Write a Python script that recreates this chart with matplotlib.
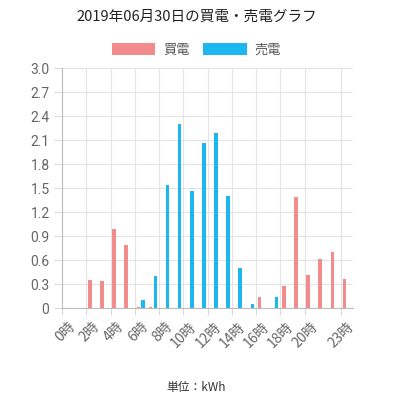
import matplotlib
matplotlib.use("Agg")
import matplotlib.pyplot as plt
import numpy as np
from matplotlib.patches import Patch

plt.rcParams['font.family'] = ['Noto Sans CJK JP', 'DejaVu Sans']

# データ
hours = [f"{h}時" for h in range(24)]
buy = [0, 0, 0.36, 0.34, 0.99, 0.79, 0.02, 0.02, 0, 0, 0, 0,
       0, 0, 0, 0.01, 0.14, 0, 0.28, 1.39, 0.42, 0.62, 0.70, 0.37]
sell = [0, 0, 0, 0, 0, 0, 0.10, 0.40, 1.54, 2.30, 1.47, 2.07,
        2.19, 1.40, 0.51, 0.05, 0, 0.14, 0, 0, 0, 0, 0, 0]
shown_hours = [0, 2, 4, 6, 8, 10, 12, 14, 16, 18, 20, 23]
y_ticks = [0, 0.3, 0.6, 0.9, 1.2, 1.5, 1.8, 2.1, 2.4, 2.7, 3.0]

buy_color = '#f28b8c'
sell_color = '#1bb7ee'

fig = plt.figure(figsize=(3.93, 4.0), dpi=100)
ax = fig.add_axes([62 / 393, 91.7 / 400, 291 / 393, 240 / 400])

x = np.arange(len(hours))
w = 0.3
ax.bar(x - 0.2, buy, width=w, color=buy_color, linewidth=0, zorder=3)
ax.bar(x + 0.2, sell, width=w, color=sell_color, linewidth=0, zorder=3)

ax.set_xlim(-0.5, 23.5)
ax.set_ylim(0, 3.0)

# x軸: グリッドはカテゴリの左端、ラベルは中央
ax.set_xticks([h - 0.5 for h in shown_hours])
ax.set_xticklabels([])
ax.set_xticks(shown_hours, minor=True)
ax.set_xticklabels([hours[h] for h in shown_hours], minor=True, rotation=45,
                   ha='right', va='top', rotation_mode='anchor',
                   fontsize=10, color='#666666')
ax.tick_params(axis='x', which='major', length=5, color='#d9d9d9', direction='out')
ax.tick_params(axis='x', which='minor', length=0, pad=8)

ax.set_yticks(y_ticks)
ax.set_yticklabels(['0'] + [f"{v:.1f}" for v in y_ticks[1:]], fontsize=10,
                   color='#666666', family=['Roboto', 'DejaVu Sans'])
ax.tick_params(axis='y', length=6, color='#d9d9d9', pad=3)

ax.grid(True, color='#e3e3e3', linewidth=0.8, zorder=0)
for side in ['top', 'right']:
    ax.spines[side].set_visible(False)
ax.spines['left'].set_color('#bdbdbd')
ax.spines['bottom'].set_color('#bdbdbd')

fig.text(0.5, 1 - 17 / 400, '2019年06月30日の買電・売電グラフ', ha='center', va='center',
         fontsize=10.5, color='#222222')

handles = [Patch(facecolor=buy_color, label='買電'),
           Patch(facecolor=sell_color, label='売電')]
fig.legend(handles=handles, loc='center', bbox_to_anchor=(0.5, 1 - 50 / 400), ncol=2,
           frameon=False, fontsize=9.5, handlelength=3.3, handleheight=0.95,
           handletextpad=0.6, columnspacing=1.0, labelcolor='#555555')

fig.text(0.5, 1 - 387 / 400, '単位：kWh', ha='center', va='center', fontsize=8.5, color='#333333')

fig.savefig('out.png', dpi=100)
